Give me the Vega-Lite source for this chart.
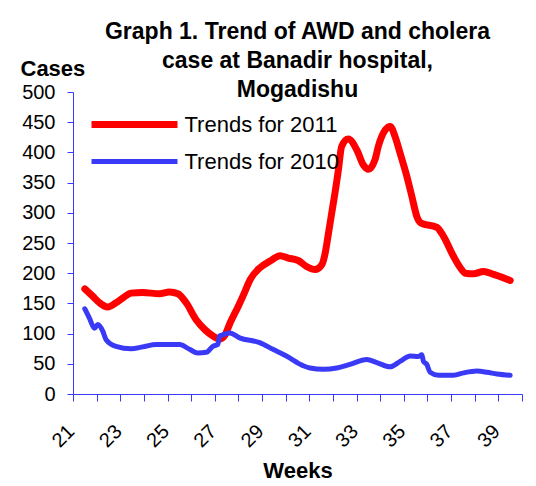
{
  "$schema": "https://vega.github.io/schema/vega-lite/v6.json",
  "width": 449,
  "height": 302,
  "autosize": {"type": "none"},
  "padding": {"left": 73, "top": 92, "right": 14, "bottom": 92},
  "background": "white",
  "title": {
    "text": ["Graph 1. Trend of AWD and cholera", "case at Banadir hospital,", "Mogadishu"],
    "anchor": "middle",
    "frame": "group",
    "fontSize": 23,
    "fontWeight": "bold",
    "font": "Liberation Sans",
    "lineHeight": 29,
    "offset": -45,
    "color": "black"
  },
  "data": {
    "values": [
      {"week": 21.0, "cases": 174, "series": "Trends for 2011"},
      {"week": 21.33, "cases": 162, "series": "Trends for 2011"},
      {"week": 21.62, "cases": 151, "series": "Trends for 2011"},
      {"week": 21.97, "cases": 144, "series": "Trends for 2011"},
      {"week": 22.32, "cases": 151, "series": "Trends for 2011"},
      {"week": 22.61, "cases": 159, "series": "Trends for 2011"},
      {"week": 22.96, "cases": 167, "series": "Trends for 2011"},
      {"week": 23.45, "cases": 168, "series": "Trends for 2011"},
      {"week": 24.16, "cases": 166, "series": "Trends for 2011"},
      {"week": 24.58, "cases": 169, "series": "Trends for 2011"},
      {"week": 24.94, "cases": 166, "series": "Trends for 2011"},
      {"week": 25.29, "cases": 151, "series": "Trends for 2011"},
      {"week": 25.71, "cases": 123, "series": "Trends for 2011"},
      {"week": 26.07, "cases": 107, "series": "Trends for 2011"},
      {"week": 26.42, "cases": 96, "series": "Trends for 2011"},
      {"week": 26.7, "cases": 91, "series": "Trends for 2011"},
      {"week": 26.92, "cases": 97, "series": "Trends for 2011"},
      {"week": 27.15, "cases": 118, "series": "Trends for 2011"},
      {"week": 27.49, "cases": 145, "series": "Trends for 2011"},
      {"week": 27.78, "cases": 170, "series": "Trends for 2011"},
      {"week": 27.99, "cases": 189, "series": "Trends for 2011"},
      {"week": 28.41, "cases": 209, "series": "Trends for 2011"},
      {"week": 28.84, "cases": 220, "series": "Trends for 2011"},
      {"week": 29.26, "cases": 229, "series": "Trends for 2011"},
      {"week": 29.61, "cases": 225, "series": "Trends for 2011"},
      {"week": 30.03, "cases": 221, "series": "Trends for 2011"},
      {"week": 30.39, "cases": 211, "series": "Trends for 2011"},
      {"week": 30.74, "cases": 206, "series": "Trends for 2011"},
      {"week": 31.03, "cases": 214, "series": "Trends for 2011"},
      {"week": 31.17, "cases": 233, "series": "Trends for 2011"},
      {"week": 31.31, "cases": 266, "series": "Trends for 2011"},
      {"week": 31.45, "cases": 300, "series": "Trends for 2011"},
      {"week": 31.63, "cases": 344, "series": "Trends for 2011"},
      {"week": 31.73, "cases": 371, "series": "Trends for 2011"},
      {"week": 31.87, "cases": 410, "series": "Trends for 2011"},
      {"week": 32.15, "cases": 422, "series": "Trends for 2011"},
      {"week": 32.51, "cases": 404, "series": "Trends for 2011"},
      {"week": 32.79, "cases": 379, "series": "Trends for 2011"},
      {"week": 33.0, "cases": 372, "series": "Trends for 2011"},
      {"week": 33.28, "cases": 388, "series": "Trends for 2011"},
      {"week": 33.42, "cases": 410, "series": "Trends for 2011"},
      {"week": 33.71, "cases": 437, "series": "Trends for 2011"},
      {"week": 33.92, "cases": 443, "series": "Trends for 2011"},
      {"week": 34.13, "cases": 426, "series": "Trends for 2011"},
      {"week": 34.34, "cases": 399, "series": "Trends for 2011"},
      {"week": 34.63, "cases": 360, "series": "Trends for 2011"},
      {"week": 34.84, "cases": 327, "series": "Trends for 2011"},
      {"week": 35.05, "cases": 294, "series": "Trends for 2011"},
      {"week": 35.23, "cases": 283, "series": "Trends for 2011"},
      {"week": 35.9, "cases": 276, "series": "Trends for 2011"},
      {"week": 36.18, "cases": 261, "series": "Trends for 2011"},
      {"week": 36.6, "cases": 228, "series": "Trends for 2011"},
      {"week": 36.89, "cases": 209, "series": "Trends for 2011"},
      {"week": 37.1, "cases": 200, "series": "Trends for 2011"},
      {"week": 37.45, "cases": 199, "series": "Trends for 2011"},
      {"week": 37.87, "cases": 203, "series": "Trends for 2011"},
      {"week": 38.3, "cases": 198, "series": "Trends for 2011"},
      {"week": 39.0, "cases": 188, "series": "Trends for 2011"},
      {"week": 21.0, "cases": 141, "series": "Trends for 2010"},
      {"week": 21.19, "cases": 126, "series": "Trends for 2010"},
      {"week": 21.41, "cases": 109, "series": "Trends for 2010"},
      {"week": 21.55, "cases": 115, "series": "Trends for 2010"},
      {"week": 21.76, "cases": 104, "series": "Trends for 2010"},
      {"week": 21.9, "cases": 90, "series": "Trends for 2010"},
      {"week": 22.32, "cases": 79, "series": "Trends for 2010"},
      {"week": 22.96, "cases": 75, "series": "Trends for 2010"},
      {"week": 23.45, "cases": 78, "series": "Trends for 2010"},
      {"week": 24.02, "cases": 82, "series": "Trends for 2010"},
      {"week": 25.01, "cases": 82, "series": "Trends for 2010"},
      {"week": 25.43, "cases": 74, "series": "Trends for 2010"},
      {"week": 25.78, "cases": 68, "series": "Trends for 2010"},
      {"week": 26.14, "cases": 69, "series": "Trends for 2010"},
      {"week": 26.42, "cases": 79, "series": "Trends for 2010"},
      {"week": 26.63, "cases": 82, "series": "Trends for 2010"},
      {"week": 26.7, "cases": 96, "series": "Trends for 2010"},
      {"week": 26.84, "cases": 98, "series": "Trends for 2010"},
      {"week": 27.13, "cases": 101, "series": "Trends for 2010"},
      {"week": 27.55, "cases": 93, "series": "Trends for 2010"},
      {"week": 28.4, "cases": 85, "series": "Trends for 2010"},
      {"week": 28.96, "cases": 74, "series": "Trends for 2010"},
      {"week": 29.53, "cases": 63, "series": "Trends for 2010"},
      {"week": 30.23, "cases": 47, "series": "Trends for 2010"},
      {"week": 30.53, "cases": 43, "series": "Trends for 2010"},
      {"week": 31.09, "cases": 41, "series": "Trends for 2010"},
      {"week": 31.66, "cases": 43, "series": "Trends for 2010"},
      {"week": 32.22, "cases": 49, "series": "Trends for 2010"},
      {"week": 32.93, "cases": 57, "series": "Trends for 2010"},
      {"week": 33.36, "cases": 52, "series": "Trends for 2010"},
      {"week": 33.92, "cases": 45, "series": "Trends for 2010"},
      {"week": 34.34, "cases": 54, "series": "Trends for 2010"},
      {"week": 34.77, "cases": 63, "series": "Trends for 2010"},
      {"week": 35.12, "cases": 62, "series": "Trends for 2010"},
      {"week": 35.26, "cases": 65, "series": "Trends for 2010"},
      {"week": 35.33, "cases": 54, "series": "Trends for 2010"},
      {"week": 35.47, "cases": 49, "series": "Trends for 2010"},
      {"week": 35.61, "cases": 36, "series": "Trends for 2010"},
      {"week": 35.97, "cases": 31, "series": "Trends for 2010"},
      {"week": 36.6, "cases": 31, "series": "Trends for 2010"},
      {"week": 37.03, "cases": 35, "series": "Trends for 2010"},
      {"week": 37.59, "cases": 38, "series": "Trends for 2010"},
      {"week": 38.02, "cases": 36, "series": "Trends for 2010"},
      {"week": 38.44, "cases": 33, "series": "Trends for 2010"},
      {"week": 39.0, "cases": 31, "series": "Trends for 2010"}
    ]
  },
  "mark": {"type": "line", "interpolate": "monotone", "strokeCap": "round", "strokeJoin": "round"},
  "encoding": {
    "x": {
      "field": "week",
      "type": "quantitative",
      "scale": {"domain": [20.5, 39.5], "nice": false, "zero": false},
      "axis": {
        "values": [20.5, 21.5, 22.5, 23.5, 24.5, 25.5, 26.5, 27.5, 28.5, 29.5, 30.5, 31.5, 32.5, 33.5, 34.5, 35.5, 36.5, 37.5, 38.5, 39.5],
        "labelExpr": "(datum.value - 20.5) % 2 === 0 ? format(datum.value + 0.5, 'd') : ''",
        "labelAngle": -45,
        "labelAlign": "right",
        "labelBaseline": "middle",
        "labelPadding": 27,
        "labelOffset": -2,
        "labelFlush": false,
        "labelOverlap": false,
        "labelBound": false,
        "tickSize": 7,
        "title": "Weeks",
        "titleY": 83,
        "titleBaseline": "alphabetic",
        "titleAnchor": "middle"
      }
    },
    "y": {
      "field": "cases",
      "type": "quantitative",
      "scale": {"domain": [0, 500], "nice": false},
      "axis": {
        "values": [0, 50, 100, 150, 200, 250, 300, 350, 400, 450, 500],
        "tickSize": 6,
        "labelPadding": 12,
        "labelFlush": false,
        "labelOverlap": false,
        "title": "Cases",
        "titleAngle": 0,
        "titleAlign": "left",
        "titleBaseline": "alphabetic",
        "titleX": -53,
        "titleY": -17
      }
    },
    "color": {
      "field": "series",
      "type": "nominal",
      "scale": {"domain": ["Trends for 2011", "Trends for 2010"], "range": ["#ff0000", "#3a3af6"]},
      "legend": {"title": null}
    },
    "strokeWidth": {
      "field": "series",
      "type": "nominal",
      "scale": {"domain": ["Trends for 2011", "Trends for 2010"], "range": [7, 5]},
      "legend": {"title": null}
    }
  },
  "config": {
    "view": {"stroke": null},
    "font": "Liberation Sans",
    "axis": {
      "grid": false,
      "domainColor": "#3a3aff",
      "tickColor": "#3a3aff",
      "domainWidth": 1,
      "tickWidth": 1,
      "labelFont": "Liberation Sans",
      "labelFontSize": 20,
      "labelColor": "black",
      "titleFont": "Liberation Sans",
      "titleFontSize": 22,
      "titleFontWeight": "bold",
      "titleColor": "black"
    },
    "legend": {
      "orient": "none",
      "legendX": 47,
      "legendY": 18,
      "padding": 0,
      "symbolType": "M-4,0H4",
      "symbolSize": 462,
      "labelFont": "Liberation Sans",
      "labelFontSize": 22,
      "labelColor": "black",
      "labelOffset": 35.5,
      "labelBaseline": "middle",
      "rowPadding": 9
    }
  }
}
